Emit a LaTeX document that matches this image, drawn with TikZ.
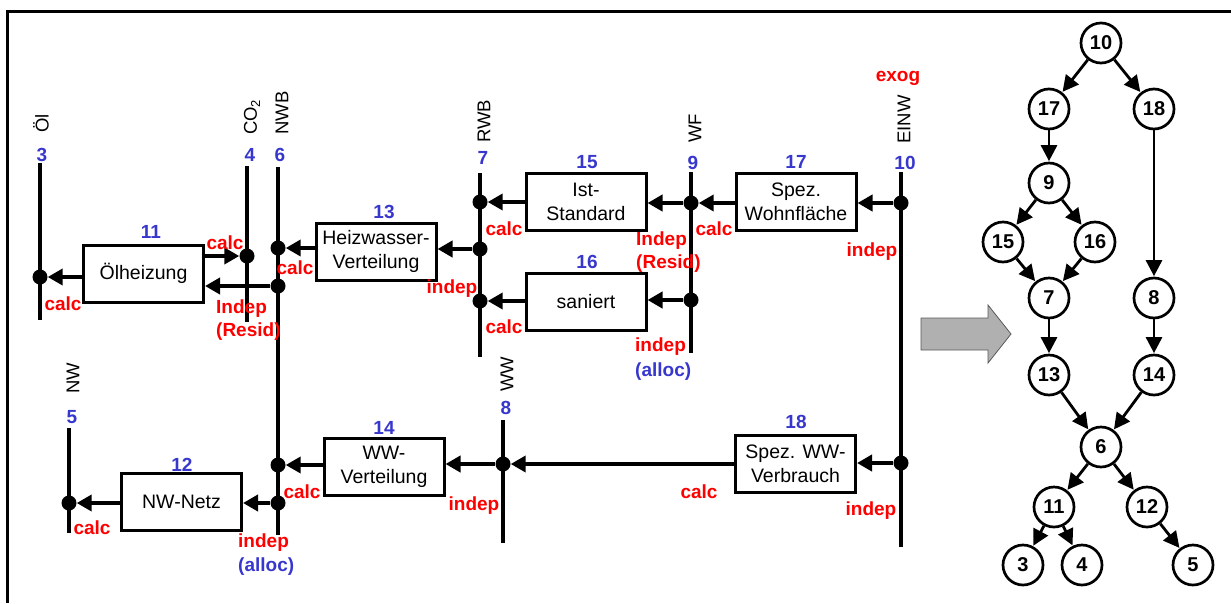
\documentclass[tikz,border=0pt]{standalone}
\usepackage{fontspec}
\setmainfont{Liberation Sans}
\usetikzlibrary{arrows.meta}
\definecolor{lblred}{RGB}{255,0,0}
\definecolor{lblblue}{RGB}{55,55,205}
\definecolor{blockgray}{RGB}{176,176,176}
\begin{document}
\begin{tikzpicture}[x=1pt,y=-1pt,
 box/.style={draw, line width=3pt, minimum width=120pt, minimum height=57pt, inner sep=2pt, align=center, font=\fontsize{19.5}{24}\selectfont},
 var/.style={line width=4pt},
 dot/.style={circle, fill, inner sep=0pt, minimum size=15pt},
 arr/.style={line width=4pt, -{Triangle[length=15pt,width=16pt]}},
 num/.style={text=lblblue, font=\fontsize{19}{22}\selectfont\bfseries, inner sep=0pt},
 lab/.style={text=lblred, font=\fontsize{19}{23}\selectfont\bfseries, inner sep=0pt},
 vname/.style={rotate=90, anchor=west, font=\fontsize{18.5}{22}\selectfont, inner sep=0pt},
 gnode/.style={circle, draw, line width=2.7pt, minimum size=40pt, inner sep=0pt, font=\fontsize{20}{24}\selectfont\bfseries},
 garr/.style={line width=2.8pt, -{Triangle[length=16pt,width=16pt]}, shorten >=0.5pt}
]
\useasboundingbox (0,0) rectangle (1231,603);
% frame
\draw[line width=3pt] (1231,11) -- (7,11) -- (7,603);

% ---------- variable lines ----------
\coordinate (v3t) at (40,163);  \coordinate (v3b) at (40,320);
\coordinate (v4t) at (247,166); \coordinate (v4b) at (247,322);
\coordinate (v6t) at (278,167); \coordinate (v6b) at (278,535);
\coordinate (v7t) at (480,173); \coordinate (v7b) at (480,357);
\coordinate (v9t) at (691,172); \coordinate (v9b) at (691,353);
\coordinate (v10t) at (901,172); \coordinate (v10b) at (901,547);
\coordinate (v8t) at (503,420); \coordinate (v8b) at (503,543);
\coordinate (v5t) at (69,428);  \coordinate (v5b) at (69,533);
\foreach \v in {3,4,6,7,9,10,8,5} \draw[var] (v\v t) -- (v\v b);

% variable names
\node[vname] (n3) at (41,133) {Öl};
\node[vname] (n4) at (252,135) {CO\textsubscript{2}};
\node[vname] (n6) at (282,135) {NWB};
\node[vname] (n7) at (484,143) {RWB};
\node[vname] (n9) at (695,143) {WF};
\node[vname] (n10) at (904,144) {EINW};
\node[vname] (n8) at (507,392) {WW};
\node[vname] (n5) at (73,394) {NW};

% variable numbers
\node[num] (k3) at (42,155) {3};
\node[num] (k4) at (250,155) {4};
\node[num] (k6) at (280,155) {6};
\node[num] (k7) at (483,158) {7};
\node[num] (k9) at (693,163) {9};
\node[num] (k10) at (905,163) {10};
\node[num] (k8) at (506,408) {8};
\node[num] (k5) at (72,417) {5};
\node[lab] (exog) at (898,78) {exog};

% ---------- boxes ----------
\node[box] (b11) at (143.5,273.5) {Ölheizung};
\node[box] (b13) at (376,251.5) {Heizwasser-\\Verteilung};
\node[box] (b15) at (586,201.5) {Ist-\\Standard};
\node[box] (b16) at (586,301.5) {saniert};
\node[box] (b17) at (796,202) {Spez.\\Wohnfläche};
\node[box] (b12) at (181.5,502) {NW-Netz};
\node[box] (b14) at (384,466.5) {WW-\\Verteilung};
\node[box] (b18) at (795.5,464) {Spez. WW-\\Verbrauch};

\node[num] (k11) at (151,232) {11};
\node[num] (k13) at (384,212) {13};
\node[num] (k15) at (587,162) {15};
\node[num] (k16) at (587,262) {16};
\node[num] (k17) at (796,162) {17};
\node[num] (k12) at (182,465) {12};
\node[num] (k14) at (384,428) {14};
\node[num] (k18) at (796,422) {18};

% ---------- dots ----------
\node[dot] (d3) at (40,277) {};
\node[dot] (d4) at (247,256) {};
\node[dot] (d6a) at (278,248) {};
\node[dot] (d6b) at (278,286) {};
\node[dot] (d6c) at (278,465) {};
\node[dot] (d6d) at (278,503) {};
\node[dot] (d7a) at (480,202) {};
\node[dot] (d7b) at (480,249) {};
\node[dot] (d7c) at (480,301) {};
\node[dot] (d9a) at (691,203) {};
\node[dot] (d9b) at (691,300) {};
\node[dot] (d10a) at (901,203) {};
\node[dot] (d10b) at (901,463) {};
\node[dot] (d8) at (503,464) {};
\node[dot] (d5) at (69,503) {};

% ---------- connectors ----------
\draw[arr] (b11.west |- d3) -- (d3);
\draw[arr] (b11.east |- d4) -- (d4);
\draw[arr] (d6b) -- (b11.east |- d6b);
\draw[arr] (b13.west |- d6a) -- (d6a);
\draw[arr] (d7b) -- (b13.east |- d7b);
\draw[arr] (b15.west |- d7a) -- (d7a);
\draw[arr] (b16.west |- d7c) -- (d7c);
\draw[arr] (d9a) -- (b15.east |- d9a);
\draw[arr] (b17.west |- d9a) -- (d9a);
\draw[arr] (d9b) -- (b16.east |- d9b);
\draw[arr] (d10a) -- (b17.east |- d10a);
\draw[arr] (d10b) -- (b18.east |- d10b);
\draw[arr] (b18.west |- d8) -- (d8);
\draw[arr] (d8) -- (b14.east |- d8);
\draw[arr] (b14.west |- d6c) -- (d6c);
\draw[arr] (d6d) -- (b12.east |- d6d);
\draw[arr] (b12.west |- d5) -- (d5);

% ---------- labels ----------
\node[lab] (l1) at (225,243) {calc};
\node[lab] (l2) at (63,304) {calc};
\node[lab, align=left, anchor=north west] (l3) at (216,300) {Indep\\(Resid)};
\node[lab] (l4) at (295,268) {calc};
\node[lab] (l5) at (452,289) {indep};
\node[lab] (l6) at (504,229) {calc};
\node[lab] (l7) at (504,327) {calc};
\node[lab] (l8) at (714,229) {calc};
\node[lab, align=left, anchor=north west] (l9) at (636,232) {Indep\\(Resid)};
\node[lab, anchor=west] (l10) at (635,347) {indep};
\node[lab, anchor=west, text=lblblue] (l10b) at (635,372) {(alloc)};
\node[lab] (l11) at (872,252) {indep};
\node[lab] (l12) at (699,492) {calc};
\node[lab] (l13) at (871,511) {indep};
\node[lab] (l14) at (474,506) {indep};
\node[lab] (l15) at (302,492) {calc};
\node[lab, anchor=west] (l16) at (238,543) {indep};
\node[lab, anchor=west, text=lblblue] (l16b) at (238,567) {(alloc)};
\node[lab] (l17) at (92,528) {calc};

% ---------- block arrow ----------
\draw[fill=blockgray, draw=black!65, line width=0.8pt]
 (921,318) -- (988,318) -- (988,305) -- (1011,334) -- (988,363) -- (988,350) -- (921,350) -- cycle;

% ---------- right graph ----------
\node[gnode] (g10) at (1101,43) {10};
\node[gnode] (g17) at (1049,109) {17};
\node[gnode] (g18) at (1154,109) {18};
\node[gnode] (g9) at (1049,183) {9};
\node[gnode] (g15) at (1003,242) {15};
\node[gnode] (g16) at (1095,242) {16};
\node[gnode] (g7) at (1049,298) {7};
\node[gnode] (g8) at (1154,298) {8};
\node[gnode] (g13) at (1049,375) {13};
\node[gnode] (g14) at (1154,375) {14};
\node[gnode] (g6) at (1101,447) {6};
\node[gnode] (g11) at (1054,507) {11};
\node[gnode] (g12) at (1147,507) {12};
\node[gnode] (g3) at (1023,565) {3};
\node[gnode] (g4) at (1082,565) {4};
\node[gnode] (g5) at (1193,565) {5};

\draw[garr] (g10) -- (g17);
\draw[garr] (g10) -- (g18);
\draw[garr] (g17) -- (g9);
\draw[garr] (g9) -- (g15);
\draw[garr] (g9) -- (g16);
\draw[garr] (g15) -- (g7);
\draw[garr] (g16) -- (g7);
\draw[garr] (g18) -- (g8);
\draw[garr] (g7) -- (g13);
\draw[garr] (g8) -- (g14);
\draw[garr] (g13) -- (g6);
\draw[garr] (g14) -- (g6);
\draw[garr] (g6) -- (g11);
\draw[garr] (g6) -- (g12);
\draw[garr] (g11) -- (g3);
\draw[garr] (g11) -- (g4);
\draw[garr] (g12) -- (g5);
\end{tikzpicture}
\end{document}
